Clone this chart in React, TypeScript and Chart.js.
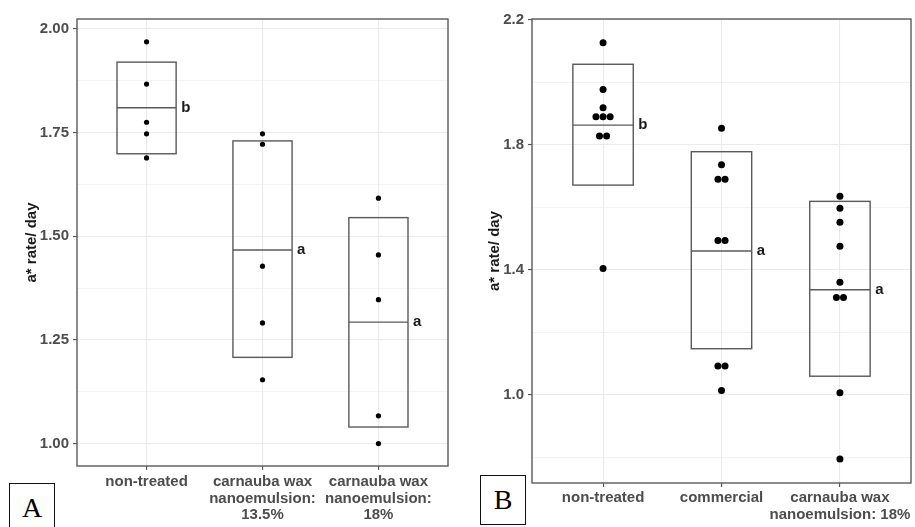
import React, { useEffect, useRef } from 'react';
import { Chart, registerables } from 'chart.js';

Chart.register(...registerables);

const FONT = "'Liberation Sans', Arial, Helvetica, sans-serif";

// ---------- Panel A data ----------
const categoriesA = [
  ['non-treated'],
  ['carnauba wax', 'nanoemulsion:', '13.5%'],
  ['carnauba wax', 'nanoemulsion:', '18%'],
];
const nonTreatedA = [1.969, 1.867, 1.775, 1.747, 1.689];
const wax135A = [1.747, 1.722, 1.428, 1.291, 1.154];
const wax18A = [1.592, 1.455, 1.347, 1.067, 1.0];
const meanA = [1.81, 1.467, 1.293];
const upperA = [1.92, 1.73, 1.545];
const lowerA = [1.699, 1.208, 1.04];
const lettersA = ['b', 'a', 'a'];
const yMajorA = [1.0, 1.25, 1.5, 1.75, 2.0];
const yMajorLabelsA = ['1.00', '1.25', '1.50', '1.75', '2.00'];
const yMinorA = [1.125, 1.375, 1.625, 1.875];
const yMinA = 0.946;
const yMaxA = 2.024;

// ---------- Panel B data ----------
const categoriesB = [
  ['non-treated'],
  ['commercial'],
  ['carnauba wax', 'nanoemulsion: 18%'],
];
const nonTreatedB = [2.127, 1.977, 1.919, 1.89, 1.89, 1.89, 1.828, 1.828, 1.404];
const commercialB = [1.853, 1.736, 1.69, 1.69, 1.494, 1.494, 1.092, 1.092, 1.013];
const wax18B = [1.635, 1.597, 1.552, 1.475, 1.36, 1.311, 1.311, 1.006, 0.794];
const meanB = [1.863, 1.46, 1.336];
const upperB = [2.058, 1.778, 1.619];
const lowerB = [1.671, 1.147, 1.059];
const lettersB = ['b', 'a', 'a'];
const yMajorB = [1.0, 1.4, 1.8, 2.2];
const yMajorLabelsB = ['1.0', '1.4', '1.8', '2.2'];
const yMinorB = [0.8, 1.2, 1.6, 2.0];
const yMinB = 0.717;
const yMaxB = 2.203;

const yTitle = 'a* rate/ day';

function dodge(values: number[], cat: number, step: number) {
  const counts = new Map<number, number>();
  values.forEach((v) => counts.set(v, (counts.get(v) || 0) + 1));
  const seen = new Map<number, number>();
  return values.map((v) => {
    const n = counts.get(v) as number;
    const i = seen.get(v) || 0;
    seen.set(v, i + 1);
    return { x: cat + (i - (n - 1) / 2) * step, y: v };
  });
}

const decorPlugin = {
  id: 'decor',
  beforeDatasetsDraw(chart: any, _args: any, opts: any) {
    const { ctx, scales } = chart;
    const x = scales.x;
    const y = scales.y;
    ctx.save();
    opts.mean.forEach((m: number, i: number) => {
      const c = i + 1;
      const l = x.getPixelForValue(c - opts.halfWidth);
      const r = x.getPixelForValue(c + opts.halfWidth);
      const t = y.getPixelForValue(opts.upper[i]);
      const b = y.getPixelForValue(opts.lower[i]);
      const mp = y.getPixelForValue(m);
      ctx.strokeStyle = '#5a5a5a';
      ctx.lineWidth = 1.4;
      ctx.strokeRect(l, t, r - l, b - t);
      ctx.beginPath();
      ctx.moveTo(l, mp);
      ctx.lineTo(r, mp);
      ctx.stroke();
      ctx.fillStyle = '#1a1a1a';
      ctx.font = `bold 15px ${FONT}`;
      ctx.textAlign = 'left';
      ctx.textBaseline = 'middle';
      ctx.fillText(opts.letters[i], r + 5, mp);
    });
    ctx.restore();
  },
  afterDraw(chart: any) {
    const { ctx, chartArea } = chart;
    ctx.save();
    ctx.strokeStyle = '#5a5a5a';
    ctx.lineWidth = 1.4;
    ctx.strokeRect(chartArea.left, chartArea.top, chartArea.right - chartArea.left, chartArea.bottom - chartArea.top);
    ctx.restore();
  },
};

type PanelProps = {
  width: number;
  height: number;
  categories: string[][];
  groups: number[][];
  mean: number[];
  upper: number[];
  lower: number[];
  letters: string[];
  yMajor: number[];
  yMajorLabels: string[];
  yMinor: number[];
  yMin: number;
  yMax: number;
  radius: number;
  dodgeStep: number;
  area: { left: number; top: number; right: number; bottom: number };
  titleOffset: number;
  xPad: number;
};

function Panel(p: PanelProps) {
  const ref = useRef<HTMLCanvasElement | null>(null);
  useEffect(() => {
    if (!ref.current) return;
    const isMajor = (v: number) => p.yMajor.some((m) => Math.abs(m - v) < 1e-9);
    const allY = [...p.yMajor, ...p.yMinor].sort((a, b) => a - b);
    const datasets = p.groups.map((g, i) => ({
      type: 'scatter' as const,
      data: dodge(g, i + 1, p.dodgeStep),
      pointRadius: p.radius,
      pointBackgroundColor: '#000',
      pointBorderWidth: 0,
      pointBorderColor: '#000',
      showLine: false,
    }));
    const chart = new Chart(ref.current, {
      type: 'scatter',
      data: { datasets },
      plugins: [decorPlugin],
      options: {
        animation: false,
        responsive: false,
        events: [],
        layout: {
          padding: { left: 0, top: p.area.top, right: p.width - p.area.right, bottom: 0 },
        },
        plugins: {
          legend: { display: false },
          tooltip: { enabled: false },
          decor: {
            mean: p.mean,
            upper: p.upper,
            lower: p.lower,
            letters: p.letters,
            halfWidth: 0.255,
          },
        } as any,
        scales: {
          x: {
            type: 'linear',
            min: 0.4,
            max: 3.6,
            afterBuildTicks: (s: any) => {
              s.ticks = p.categories.map((_, i) => ({ value: i + 1 }));
            },
            afterFit: (s: any) => {
              s.height = p.height - p.area.bottom;
              s.paddingLeft = 0;
              s.paddingRight = 0;
            },
            ticks: {
              autoSkip: false,
              maxRotation: 0,
              minRotation: 0,
              padding: p.xPad,
              color: '#4d4d4d',
              font: { family: FONT, size: 15, weight: 'bold', lineHeight: 1.1 },
              callback: (v: any) => p.categories[Math.round(Number(v)) - 1] || '',
            },
            grid: {
              color: '#ebebeb',
              lineWidth: 1.1,
              drawTicks: true,
              tickLength: 4,
              tickColor: '#5a5a5a',
              tickWidth: 1.2,
            },
            border: { display: false },
          },
          y: {
            type: 'linear',
            min: p.yMin,
            max: p.yMax,
            afterBuildTicks: (s: any) => {
              s.ticks = allY.map((v) => ({ value: v }));
            },
            afterFit: (s: any) => {
              s.width = p.area.left;
              s.paddingTop = 0;
              s.paddingBottom = 0;
            },
            ticks: {
              autoSkip: false,
              padding: 4,
              color: '#4d4d4d',
              font: { family: FONT, size: 15, weight: 'bold' },
              callback: (v: any) => {
                const idx = p.yMajor.findIndex((m) => Math.abs(m - Number(v)) < 1e-9);
                return idx >= 0 ? p.yMajorLabels[idx] : '';
              },
            },
            grid: {
              color: '#ebebeb',
              lineWidth: (c: any) => (isMajor(c.tick?.value) ? 1.1 : 0.6),
              drawTicks: true,
              tickLength: 4,
              tickColor: (c: any) => (isMajor(c.tick?.value) ? '#5a5a5a' : 'rgba(0,0,0,0)'),
              tickWidth: 1.2,
            },
            border: { display: false },
            title: {
              display: true,
              text: yTitle,
              color: '#1a1a1a',
              font: { family: FONT, size: 15, weight: 'bold', lineHeight: 1.2 },
              padding: { top: p.titleOffset - 9, bottom: 0 },
            },
          },
        },
      } as any,
    });
    return () => chart.destroy();
  }, []);
  return <canvas ref={ref} width={p.width} height={p.height} style={{ display: 'block', width: p.width, height: p.height }} />;
}

const labelBox: React.CSSProperties = {
  position: 'absolute',
  width: 46,
  height: 50,
  boxSizing: 'border-box',
  border: '1.3px solid #111',
  background: '#fff',
  display: 'flex',
  alignItems: 'center',
  justifyContent: 'center',
  fontFamily: "'Liberation Serif', 'Times New Roman', serif",
  fontSize: 28,
  color: '#000',
};

export default function App() {
  return (
    <div style={{ position: 'absolute', left: 0, top: 0, width: 915, height: 527, overflow: 'hidden', background: '#fff' }}>
      <div style={{ position: 'absolute', left: 0, top: 0 }}>
        <Panel
          width={455}
          height={527}
          categories={categoriesA}
          groups={[nonTreatedA, wax135A, wax18A]}
          mean={meanA}
          upper={upperA}
          lower={lowerA}
          letters={lettersA}
          yMajor={yMajorA}
          yMajorLabels={yMajorLabelsA}
          yMinor={yMinorA}
          yMin={yMinA}
          yMax={yMaxA}
          radius={2.6}
          dodgeStep={0.05}
          area={{ left: 77, top: 19, right: 448, bottom: 466 }}
          titleOffset={31.7}
          xPad={4}
        />
      </div>
      <div style={{ position: 'absolute', left: 455, top: 0 }}>
        <Panel
          width={460}
          height={527}
          categories={categoriesB}
          groups={[nonTreatedB, commercialB, wax18B]}
          mean={meanB}
          upper={upperB}
          lower={lowerB}
          letters={lettersB}
          yMajor={yMajorB}
          yMajorLabels={yMajorLabelsB}
          yMinor={yMinorB}
          yMin={yMinB}
          yMax={yMaxB}
          radius={3.5}
          dodgeStep={0.06}
          area={{ left: 77, top: 19, right: 456, bottom: 483 }}
          titleOffset={40}
          xPad={3}
        />
      </div>
      <div style={{ ...labelBox, left: 9, top: 483 }}>A</div>
      <div style={{ ...labelBox, left: 480, top: 475 }}>B</div>
    </div>
  );
}
